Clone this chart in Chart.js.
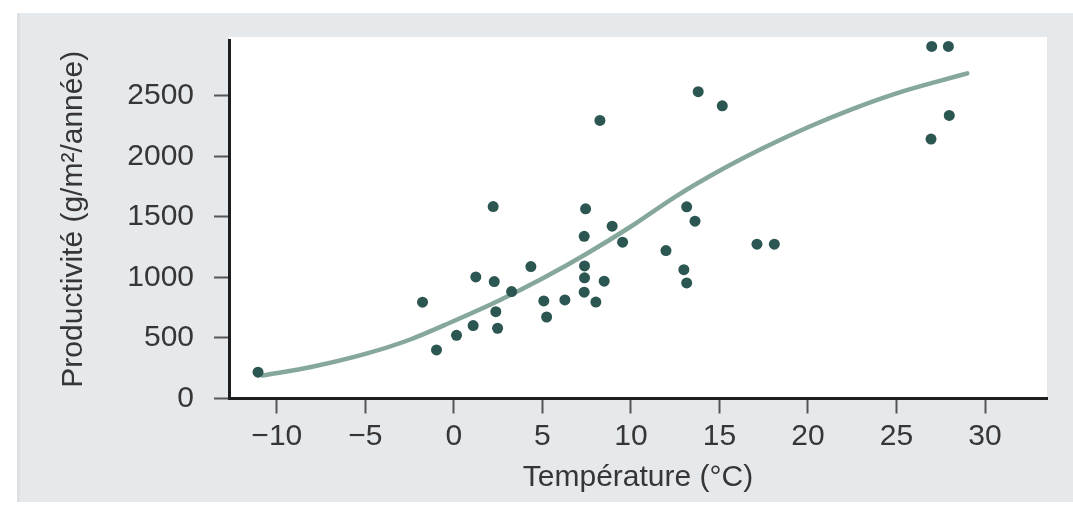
<!DOCTYPE html>
<html>
<head>
<meta charset="utf-8">
<script src="https://cdn.jsdelivr.net/npm/chart.js@4.4.1/dist/chart.umd.min.js"></script>
<style>
  html, body { margin: 0; padding: 0; background: #fff; }
  #wrap { width: 1073px; height: 506px; }
</style>
</head>
<body>
<div id="wrap"><canvas id="chart"></canvas></div>
<script>
// Observed sites: temperature (°C) vs productivity (g/m²/year)
const temperature = [
  -11.06, -1.77, -0.98, 0.15, 1.09, 1.24, 2.22, 2.28, 2.37, 2.47,
  3.26, 4.35, 5.08, 5.24, 6.27, 7.44, 7.36, 7.38, 7.38, 7.36,
  8.02, 8.25, 8.49, 8.94, 9.53, 11.98, 13.15, 12.99, 13.15, 13.62,
  13.80, 15.16, 17.12, 18.10, 26.99, 27.93, 26.95, 27.98
];
const productivity = [
  217, 795, 401, 522, 602, 1004, 1585, 965, 717, 580,
  883, 1089, 806, 673, 814, 1566, 1339, 1095, 996, 878,
  796, 2296, 969, 1423, 1291, 1221, 1583, 1064, 954, 1464,
  2533, 2417, 1274, 1274, 2907, 2907, 2142, 2337
];

// fitted trend curve
const curveTemp = [-10.8, -8, -5, -2.5, 0, 2.5, 5, 7.5, 10, 12.5, 15, 17.5, 20, 22.5, 25, 27.5, 29];
const curveProd = [190, 262, 368, 485, 640, 805, 990, 1195, 1420, 1665, 1880, 2070, 2240, 2390, 2520, 2625, 2685];

const xTicks = [-10, -5, 0, 5, 10, 15, 20, 25, 30];
const yTicks = [0, 500, 1000, 1500, 2000, 2500];

const FONT = '"Liberation Sans", Arial, Helvetica, sans-serif';
const TEXT = '#363636';

// grey panel + white plot area
const panelBg = {
  id: 'panelBg',
  beforeDraw(chart) {
    const c = chart.ctx;
    const a = chart.chartArea;
    c.save();
    c.fillStyle = '#ffffff';
    c.fillRect(0, 0, chart.width, chart.height);
    c.fillStyle = '#e6e9ec';
    c.fillRect(17, 13, chart.width - 17, 489);
    c.fillStyle = '#dde1e4';
    c.fillRect(17, 13, 3, 489);
    c.fillStyle = '#ffffff';
    c.fillRect(a.left, a.top - 3, a.right - a.left, a.bottom - a.top + 3);
    c.restore();
  }
};

new Chart(document.getElementById('chart'), {
  type: 'scatter',
  data: {
    datasets: [{
      label: 'Sites',
      data: temperature.map((t, i) => ({ x: t, y: productivity[i] })),
      backgroundColor: '#2b5651',
      borderColor: '#2b5651',
      pointRadius: 5.5,
      borderWidth: 0,
      order: 1
    }, {
      label: 'Tendance',
      data: curveTemp.map((t, i) => ({ x: t, y: curveProd[i] })),
      showLine: true,
      borderColor: '#86a79b',
      borderWidth: 4.5,
      borderCapStyle: 'round',
      cubicInterpolationMode: 'monotone',
      pointRadius: 0,
      order: 2
    }]
  },
  options: {
    responsive: true,
    maintainAspectRatio: false,
    animation: false,
    layout: { padding: { left: 0, top: 40, right: 26, bottom: 0 } },
    plugins: {
      legend: { display: false },
      tooltip: { enabled: false }
    },
    scales: {
      x: {
        type: 'linear',
        min: -12.7,
        max: 33.5,
        afterBuildTicks: (s) => { s.ticks = xTicks.map(v => ({ value: v })); },
        afterFit: (s) => { s.height = 107.5; },
        border: { color: '#1e1e1e', width: 3 },
        grid: { drawOnChartArea: false, drawTicks: true, tickLength: 15, tickColor: '#555', tickWidth: 2 },
        ticks: {
          color: TEXT,
          padding: 5,
          font: { family: FONT, size: 30 },
          callback: (v) => String(v).replace('-', '\u2212')
        },
        title: {
          display: true,
          text: 'Température (°C)',
          color: TEXT,
          font: { family: FONT, size: 30 },
          padding: { top: 0, bottom: 10 }
        }
      },
      y: {
        min: 0,
        max: 2960,
        afterBuildTicks: (s) => { s.ticks = yTicks.map(v => ({ value: v })); },
        afterFit: (s) => { s.width = 229; },
        border: { color: '#1e1e1e', width: 3 },
        grid: { drawOnChartArea: false, drawTicks: true, tickLength: 15, tickColor: '#555', tickWidth: 2 },
        ticks: {
          color: TEXT,
          padding: 20,
          font: { family: FONT, size: 30 },
          callback: (v) => String(v)
        },
        title: {
          display: true,
          text: 'Productivité (g/m²/année)',
          color: TEXT,
          font: { family: FONT, size: 30 },
          padding: { top: 56, bottom: 0 }
        }
      }
    }
  },
  plugins: [panelBg]
});
</script>
</body>
</html>
